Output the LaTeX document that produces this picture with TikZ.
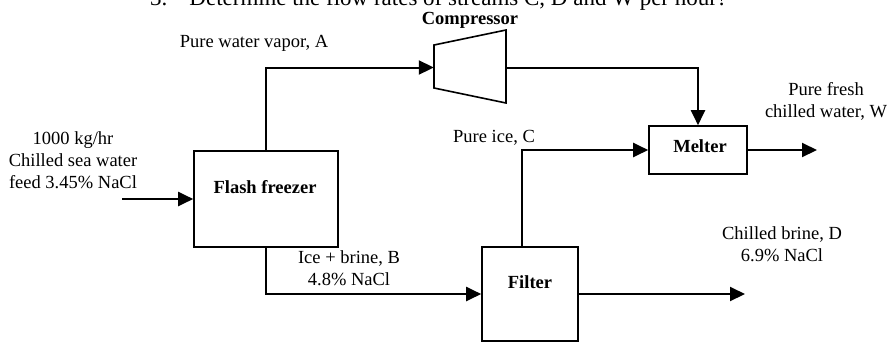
\documentclass[tikz,border=0pt]{standalone}
\usepackage{fontspec}
\setmainfont{Liberation Serif}
\usetikzlibrary{arrows.meta,calc}
\begin{document}
\begin{tikzpicture}[x=1pt,y=-1pt,
  flow/.style={line width=2pt,-{Triangle[length=15pt,width=14pt]}},
  unitbox/.style={draw,line width=1.6pt,inner sep=0pt},
  lbl/.style={font=\fontsize{18.5}{21.8}\selectfont,align=center,inner sep=0pt},
  blbl/.style={font=\fontsize{18.5}{21.8}\selectfont\bfseries,align=center,inner sep=0pt}]
\useasboundingbox (0,0) rectangle (891,341);

% question (clipped at top)
\node[font=\fontsize{23}{27}\selectfont,anchor=base west,inner sep=0pt] (q) at (150,5.5)
  {3.\hspace{22pt}Determine the flow rates of streams C, D and W per hour?};

% units
\node[unitbox,minimum width=144pt,minimum height=96pt] (ff) at (266,199) {};
\node[unitbox,minimum width=98pt,minimum height=48pt] (melter) at (698,150) {};
\node[unitbox,minimum width=96pt,minimum height=94pt] (filter) at (530,294) {};
\node[inner sep=0pt,minimum width=72pt,minimum height=73pt] (comp) at (470,67.5) {};
\draw[line width=1.6pt] (434,45) coordinate (c1) -- (506,30) coordinate (c2)
  -- (506,103) coordinate (c3) -- (434,88) coordinate (c4) -- cycle;

% unit labels
\node[blbl] (tff) at (265,187) {Flash freezer};
\node[blbl] (tmelt) at (700,146) {Melter};
\node[blbl] (tfilt) at (530,282) {Filter};
\node[blbl] (tcomp) at (470,20) {Compressor};

% stream labels
\node[lbl] (tA) at (254,43) {Pure water vapor, A};
\node[lbl] (tfeed) at (73,160) {1000 kg/hr\\Chilled sea water\\feed 3.45\%\ NaCl};
\node[lbl] (tB) at (349,268.5) {Ice + brine, B\\4.8\%\ NaCl};
\node[lbl] (tC) at (494,138) {Pure ice, C};
\node[lbl] (tD) at (782,244.5) {Chilled brine, D\\6.9\%\ NaCl};
\node[lbl] (tW) at (826,101.5) {Pure fresh\\chilled water, W};

% streams
\coordinate (feedin) at (122,199);
\coordinate (wout) at (817,150);
\coordinate (dout) at (745,294);
\draw[flow] (feedin) -- (ff.west);
\draw[flow] (ff.north) |- (comp.west);
\draw[flow] (comp.east) -| (melter.north);
\draw[flow] (ff.south) |- (filter.west);
\draw[flow] ([xshift=-8pt]filter.north) |- (melter.west);
\draw[flow] (filter.east) -- (dout);
\draw[flow] (melter.east) -- (wout);
\end{tikzpicture}
\end{document}
